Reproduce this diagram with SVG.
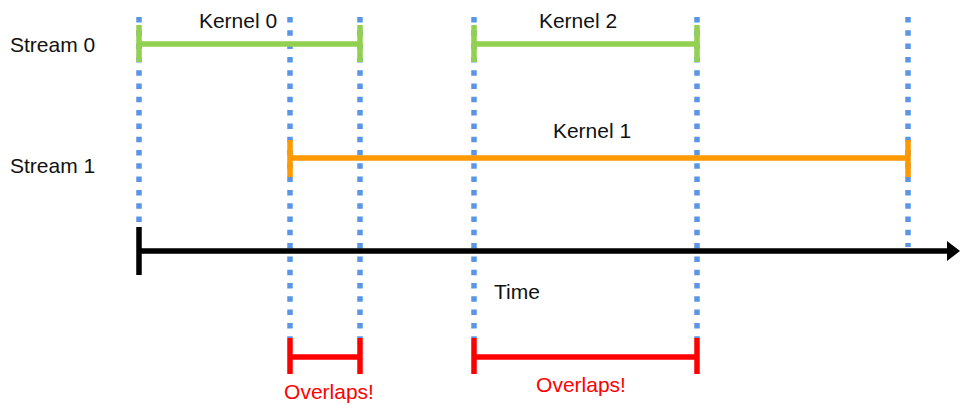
<svg xmlns="http://www.w3.org/2000/svg" width="960" height="405" viewBox="0 0 960 405">
<style>
text{font-family:"Liberation Sans",Arial,sans-serif;font-size:21px;fill:#111}
.red{fill:#ff0000}
.guide{stroke:#5b95e6;stroke-width:5.5;stroke-dasharray:5.5 7.8;fill:none}
.g{stroke:#92d050;stroke-width:5.5;fill:none}
.o{stroke:#ff9900;stroke-width:5.5;fill:none}
.r{stroke:#ff0000;stroke-width:5.5;fill:none}
.k{stroke:#000;stroke-width:5.5;fill:none}
</style>
<rect width="960" height="405" fill="#fff"/>
<g id="guides">
<line class="guide" x1="139" y1="17" x2="139" y2="226"/>
<line class="guide" x1="290" y1="17" x2="290" y2="338"/>
<line class="guide" x1="360" y1="17" x2="360" y2="338"/>
<line class="guide" x1="474" y1="17" x2="474" y2="338"/>
<line class="guide" x1="697" y1="17" x2="697" y2="338"/>
<line class="guide" x1="908" y1="17" x2="908" y2="247"/>
</g>
<g id="labels">
<text x="10" y="52">Stream 0</text>
<text x="10" y="173">Stream 1</text>
</g>
<g id="kernel0">
<path class="g" d="M139 25V62M139 44H360M360 25V62"/>
<text x="238" y="28" text-anchor="middle">Kernel 0</text>
</g>
<g id="kernel2">
<path class="g" d="M474 25V62M474 44H697M697 25V62"/>
<text x="578" y="28" text-anchor="middle">Kernel 2</text>
</g>
<g id="kernel1">
<path class="o" d="M290 140V177M290 158H908M908 140V177"/>
<text x="592" y="138" text-anchor="middle">Kernel 1</text>
</g>
<g id="time">
<path class="k" d="M139 227V275M139 251H950"/>
<polygon points="947,241 960,251 947,261" fill="#000"/>
<text x="494" y="299">Time</text>
</g>
<g id="overlap1">
<path class="r" d="M290 338V374M290 357H360M360 338V374"/>
<text class="red" x="329" y="399" text-anchor="middle">Overlaps!</text>
</g>
<g id="overlap2">
<path class="r" d="M474 338V374M474 357H697M697 338V374"/>
<text class="red" x="581" y="392" text-anchor="middle">Overlaps!</text>
</g>
</svg>
